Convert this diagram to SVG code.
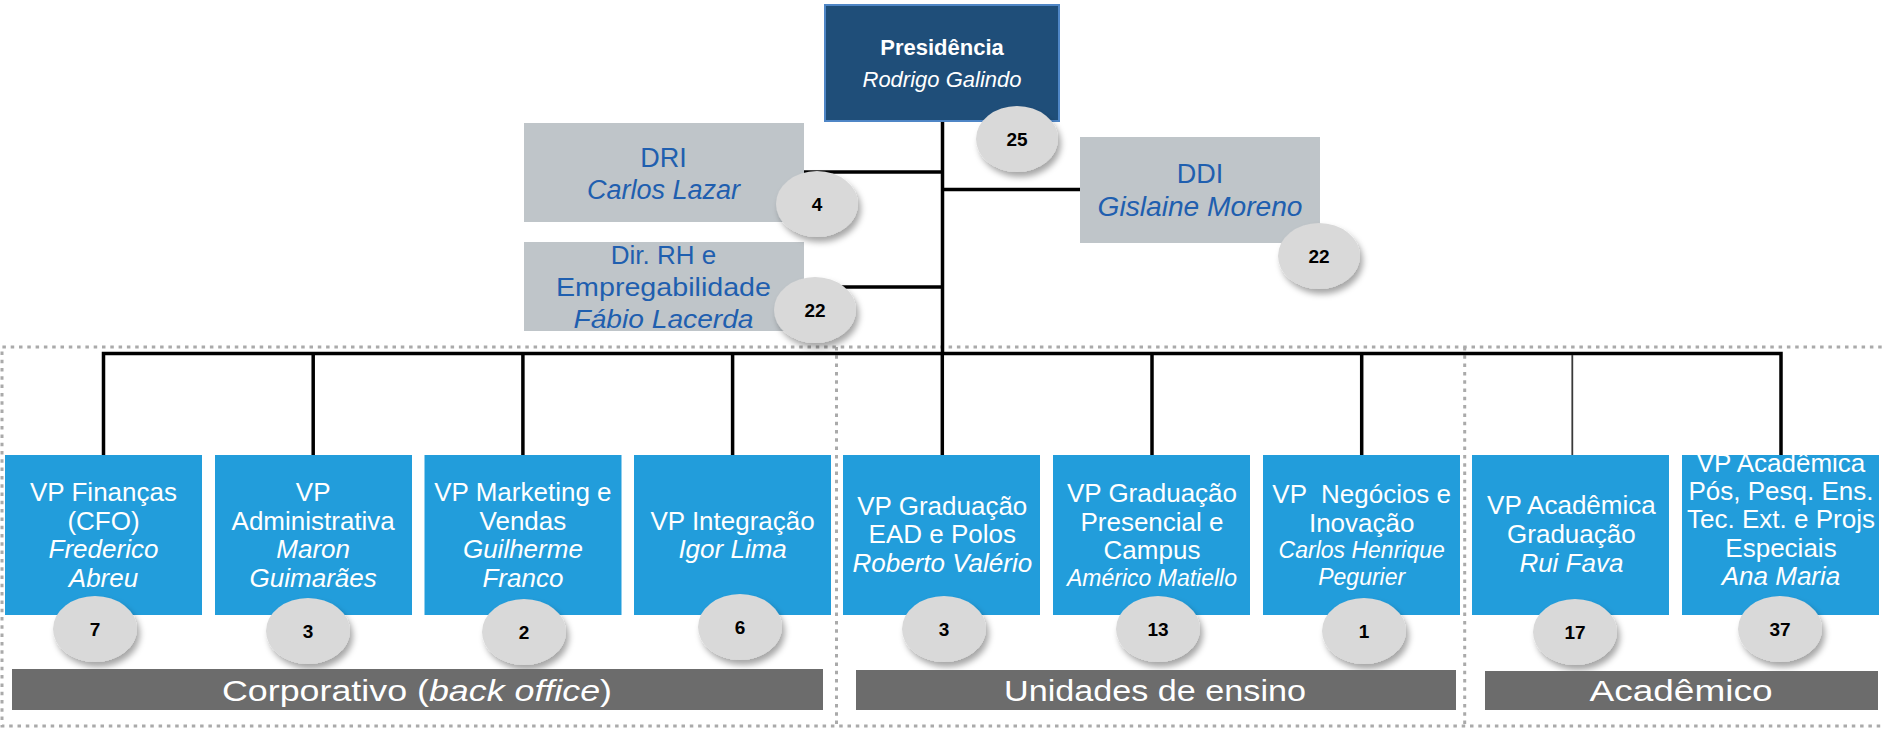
<svg xmlns="http://www.w3.org/2000/svg" width="1883" height="731" viewBox="0 0 1883 731">
<defs>
<filter id="sh" x="-40%" y="-40%" width="190%" height="190%">
<feDropShadow dx="3" dy="5" stdDeviation="3" flood-color="#000" flood-opacity="0.35"/>
</filter>
<style>
text{font-family:"Liberation Sans",Arial,sans-serif;text-anchor:middle}
.pres{fill:#1F4E79;stroke:#4F86C6;stroke-width:2}
.pt{fill:#fff;font-size:22px}
.gbox{fill:#BFC5C9}
.gt{fill:#1F5FAF;font-size:27px}
.vp{fill:#229DDB}
.vt{fill:#fff;font-size:26px}
.vs{fill:#fff;font-size:23px;font-style:italic}
.it{font-style:italic}
.badge{fill:#D9D9D9;filter:url(#sh)}
.bn{fill:#000;font-size:19px;font-weight:bold}
.bar{fill:#6C6C6C}
.bt{fill:#fff;font-size:30px}
.dot{fill:none;stroke:#AAAAAA;stroke-width:3;stroke-dasharray:3.5 4.8}
.ln{fill:none;stroke:#000;stroke-width:3.5}
</style>
</defs>
<rect width="1883" height="731" fill="#fff"/>

<g id="groups">
<path class="dot" d="M1890 347 H2 V726 H1890"/>
<path class="dot" d="M836.5 347 V726"/>
<path class="dot" d="M1464.7 347 V726"/>
</g>

<g id="connectors">
<path class="ln" d="M942.5 121 V353.5"/>
<path class="ln" d="M803 172 H942.5"/>
<path class="ln" d="M942.5 189.5 H1080"/>
<path class="ln" d="M803 287 H942.5"/>
<path class="ln" d="M103.5 455 V353.5 H1781 V455"/>
<path class="ln" d="M313.2 353.5 V455"/>
<path class="ln" d="M522.9 353.5 V455"/>
<path class="ln" d="M732.6 353.5 V455"/>
<path class="ln" d="M942.3 353.5 V455"/>
<path class="ln" d="M1152 353.5 V455"/>
<path class="ln" d="M1361.7 353.5 V455"/>
<path d="M1572.3 355 V455" fill="none" stroke="#3A3A3A" stroke-width="1.8"/>
</g>

<g id="presidencia">
<rect class="pres" x="825" y="5" width="234" height="116"/>
<text class="pt" x="942" y="55" font-weight="bold">Presidência</text>
<text class="pt it" x="942" y="87">Rodrigo Galindo</text>
</g>

<g id="dri">
<rect class="gbox" x="524" y="123" width="280" height="99"/>
<text class="gt" x="663.5" y="167">DRI</text>
<text class="gt it" x="663.5" y="199">Carlos Lazar</text>
</g>

<g id="ddi">
<rect class="gbox" x="1080" y="137" width="240" height="106"/>
<text class="gt" x="1200" y="183">DDI</text>
<text class="gt it" x="1200" y="216" textLength="205" lengthAdjust="spacingAndGlyphs">Gislaine Moreno</text>
</g>

<g id="dir-rh">
<rect class="gbox" x="524" y="242" width="280" height="89"/>
<text class="gt" x="663.5" y="264" style="font-size:26px">Dir. RH e</text>
<text class="gt" x="663.5" y="296" style="font-size:26px" textLength="215" lengthAdjust="spacingAndGlyphs">Empregabilidade</text>
<text class="gt it" x="663.5" y="328" style="font-size:26px" textLength="180" lengthAdjust="spacingAndGlyphs">Fábio Lacerda</text>
</g>

<g id="vp-financas">
<rect class="vp" x="5" y="455" width="197" height="160"/>
<text class="vt" x="103.5" y="501">VP Finanças</text>
<text class="vt" x="103.5" y="530">(CFO)</text>
<text class="vt it" x="103.5" y="558">Frederico</text>
<text class="vt it" x="103.5" y="587">Abreu</text>
</g>

<g id="vp-administrativa">
<rect class="vp" x="215" y="455" width="197" height="160"/>
<text class="vt" x="313.2" y="501">VP</text>
<text class="vt" x="313.2" y="530">Administrativa</text>
<text class="vt it" x="313.2" y="558">Maron</text>
<text class="vt it" x="313.2" y="587">Guimarães</text>
</g>

<g id="vp-marketing">
<rect class="vp" x="424.5" y="455" width="197" height="160"/>
<text class="vt" x="522.9" y="501">VP Marketing e</text>
<text class="vt" x="522.9" y="530">Vendas</text>
<text class="vt it" x="522.9" y="558">Guilherme</text>
<text class="vt it" x="522.9" y="587">Franco</text>
</g>

<g id="vp-integracao">
<rect class="vp" x="634" y="455" width="197" height="160"/>
<text class="vt" x="732.6" y="530">VP Integração</text>
<text class="vt it" x="732.6" y="558">Igor Lima</text>
</g>

<g id="vp-graduacao-ead">
<rect class="vp" x="843" y="455" width="197" height="160"/>
<text class="vt" x="942.3" y="515">VP Graduação</text>
<text class="vt" x="942.3" y="543">EAD e Polos</text>
<text class="vt it" x="942.3" y="572">Roberto Valério</text>
</g>

<g id="vp-graduacao-presencial">
<rect class="vp" x="1053" y="455" width="197" height="160"/>
<text class="vt" x="1152" y="502">VP Graduação</text>
<text class="vt" x="1152" y="531">Presencial e</text>
<text class="vt" x="1152" y="559">Campus</text>
<text class="vs" x="1152" y="586">Américo Matiello</text>
</g>

<g id="vp-negocios">
<rect class="vp" x="1263" y="455" width="197" height="160"/>
<text class="vt" x="1361.7" y="503" xml:space="preserve">VP  Negócios e</text>
<text class="vt" x="1361.7" y="532">Inovação</text>
<text class="vs" x="1361.7" y="558">Carlos Henrique</text>
<text class="vs" x="1361.7" y="585">Pegurier</text>
</g>

<g id="vp-academica-graduacao">
<rect class="vp" x="1472" y="455" width="197" height="160"/>
<text class="vt" x="1571.4" y="514">VP Acadêmica</text>
<text class="vt" x="1571.4" y="543">Graduação</text>
<text class="vt it" x="1571.4" y="572">Rui Fava</text>
</g>

<g id="vp-academica-pos">
<rect class="vp" x="1682" y="455" width="197" height="160"/>
<text class="vt" x="1781" y="472">VP Acadêmica</text>
<text class="vt" x="1781" y="500">Pós, Pesq. Ens.</text>
<text class="vt" x="1781" y="528">Tec. Ext. e Projs</text>
<text class="vt" x="1781" y="557">Especiais</text>
<text class="vt it" x="1781" y="585">Ana Maria</text>
</g>

<g id="badges">
<ellipse class="badge" cx="1017" cy="139" rx="41" ry="33"/><text class="bn" x="1017" y="146">25</text>
<ellipse class="badge" cx="817" cy="204" rx="41" ry="33"/><text class="bn" x="817" y="211">4</text>
<ellipse class="badge" cx="1319" cy="256" rx="41" ry="33"/><text class="bn" x="1319" y="263">22</text>
<ellipse class="badge" cx="815" cy="310" rx="41" ry="33"/><text class="bn" x="815" y="317">22</text>
<ellipse class="badge" cx="95" cy="629" rx="42" ry="33"/><text class="bn" x="95" y="636">7</text>
<ellipse class="badge" cx="308" cy="631" rx="42" ry="33"/><text class="bn" x="308" y="638">3</text>
<ellipse class="badge" cx="524" cy="632" rx="42" ry="33"/><text class="bn" x="524" y="639">2</text>
<ellipse class="badge" cx="740" cy="627" rx="42" ry="33"/><text class="bn" x="740" y="634">6</text>
<ellipse class="badge" cx="944" cy="629" rx="42" ry="33"/><text class="bn" x="944" y="636">3</text>
<ellipse class="badge" cx="1158" cy="629" rx="42" ry="33"/><text class="bn" x="1158" y="636">13</text>
<ellipse class="badge" cx="1364" cy="631" rx="42" ry="33"/><text class="bn" x="1364" y="638">1</text>
<ellipse class="badge" cx="1575" cy="632" rx="42" ry="33"/><text class="bn" x="1575" y="639">17</text>
<ellipse class="badge" cx="1780" cy="629" rx="42" ry="33"/><text class="bn" x="1780" y="636">37</text>
</g>

<g id="bar-corporativo">
<rect class="bar" x="12" y="669" width="811" height="41"/>
<text class="bt" x="417" y="701" textLength="390" lengthAdjust="spacingAndGlyphs">Corporativo (<tspan font-style="italic">back office</tspan>)</text>
</g>
<g id="bar-unidades">
<rect class="bar" x="856" y="670" width="600" height="40"/>
<text class="bt" x="1155" y="701" textLength="302" lengthAdjust="spacingAndGlyphs">Unidades de ensino</text>
</g>
<g id="bar-academico">
<rect class="bar" x="1485" y="671" width="393" height="39"/>
<text class="bt" x="1681" y="701" textLength="183" lengthAdjust="spacingAndGlyphs">Acadêmico</text>
</g>
</svg>
